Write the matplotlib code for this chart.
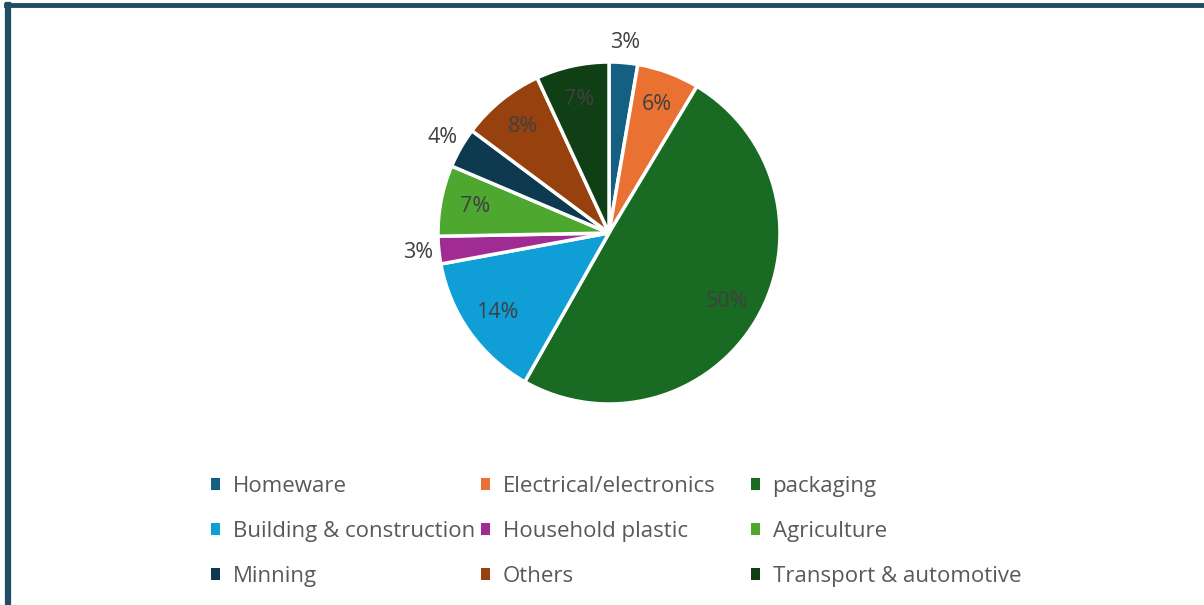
import matplotlib
matplotlib.use("Agg")
import matplotlib.pyplot as plt
from matplotlib.patches import Patch
from matplotlib.lines import Line2D
import numpy as np

categories = ["Homeware", "Electrical/electronics", "packaging",
              "Building & construction", "Household plastic", "Agriculture",
              "Minning", "Others", "Transport & automotive"]
values = [2.7, 5.9, 49.6, 13.9, 2.6, 6.7, 3.8, 7.9, 6.9]
colors = ["#156082", "#E97132", "#196B24", "#0F9ED5", "#A02B93",
          "#4EA72E", "#0E3A50", "#97410F", "#103F16"]
label_outside = [True, False, False, False, True, False, True, False, False]

plt.rcParams['font.family'] = ['Open Sans', 'DejaVu Sans']

fig = plt.figure(figsize=(12.04, 6.05), dpi=100)
fig.patch.set_facecolor("white")

W, H = 1204, 605
cx, cy, R = 609, 233, 171
ax = fig.add_axes([(cx - R) / W, 1 - (cy + R) / H, 2 * R / W, 2 * R / H])

total = sum(values)
wedges, _ = ax.pie(values, colors=colors, startangle=90, counterclock=False,
                   wedgeprops=dict(edgecolor="white", linewidth=2.5),
                   radius=1.0)
theta = 90.0
for w, v, out in zip(wedges, values, label_outside):
    span = v / total * 360
    mid = np.deg2rad(theta - span / 2)
    theta -= span
    r = 1.12 if out else 0.8
    ax.text(r * np.cos(mid), r * np.sin(mid), f"{round(v / total * 100):.0f}%",
            ha="center", va="center", fontsize=15.5, color="#404040")
ax.set_xlim(-1, 1)
ax.set_ylim(-1, 1)
ax.set_aspect("equal")
ax.axis("off")

# legend in 3 equal-width columns
col_x = [211, 481, 751]
row_top = 476
for c in range(3):
    hs = [Patch(facecolor=colors[i], edgecolor="none") for i in range(c, 9, 3)]
    ls = [categories[i] for i in range(c, 9, 3)]
    leg = fig.legend(hs, ls, loc="upper left",
                     bbox_to_anchor=(col_x[c] / W, 1 - row_top / H),
                     frameon=False, fontsize=16, handlelength=0.42,
                     handleheight=0.42, handletextpad=0.55, labelspacing=1.08,
                     borderaxespad=0, borderpad=0)
    for t in leg.get_texts():
        t.set_color("#595959")

# frame lines (left and top)
fig.add_artist(Line2D([8 / W, 8 / W], [0, 1 - 5 / H], color="#1F4E64",
                      linewidth=4.5, transform=fig.transFigure))
fig.add_artist(Line2D([6 / W, 1], [1 - 5 / H, 1 - 5 / H], color="#1F4E64",
                      linewidth=3.5, transform=fig.transFigure))

fig.savefig("out.png", dpi=100, facecolor="white")
